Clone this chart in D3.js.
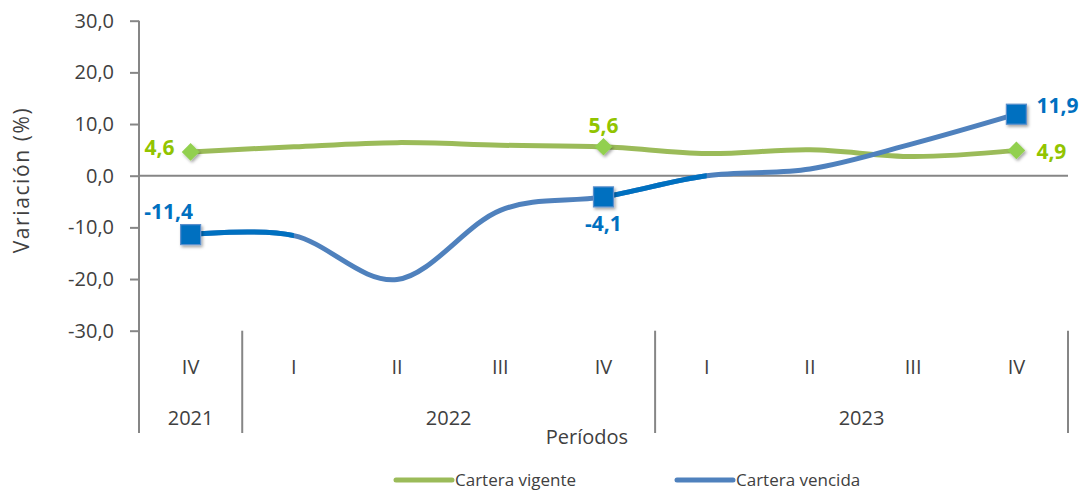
<!DOCTYPE html>
<html>
<head>
<meta charset="utf-8">
<script src="https://cdn.jsdelivr.net/npm/d3@7"></script>
<style>
  body { margin: 0; background: #fff; }
  svg { font-family: "Open Sans", "Noto Sans", sans-serif; }
  .tick-label { fill: #404040; font-size: 20px; }
  .data-label { font-size: 21px; font-weight: bold; }
</style>
</head>
<body>
<script>
// chart values
const quarters = ["IV", "I", "II", "III", "IV", "I", "II", "III", "IV"]
const years = ["2021", "2022", "2023"]
const quartersPerYear = [1, 4, 4]
const vigente = [4.6, 5.6, 6.4, 5.9, 5.6, 4.3, 5.0, 3.7, 4.9]
const vencida = [-11.4, -11.6, -20.1, -6.7, -4.1, 0.0, 1.3, 6.2, 11.9]
const labelled = [0, 4, 8]
const yTicks = [-30, -20, -10, 0, 10, 20, 30]
const seriesNames = ["Cartera vigente", "Cartera vencida"]

const width = 1090, height = 490
const plotLeft = 139, plotRight = 1068, plotTop = 20.7, plotBottom = 330.7, axisBottom = 433

const green = "#9BBB59", greenMark = "#92D050", greenText = "#92C400"
const blue = "#4F81BD", blueDark = "#0070C0"
const grey = "#868686"

const svg = d3.select("body").append("svg")
    .attr("width", width).attr("height", height)

const defs = svg.append("defs")
const shadow = defs.append("filter").attr("id", "shadow")
    .attr("x", "-50%").attr("y", "-50%").attr("width", "200%").attr("height", "200%")
shadow.append("feDropShadow").attr("dx", 1.5).attr("dy", 2).attr("stdDeviation", 1.6)
    .attr("flood-color", "#000").attr("flood-opacity", 0.35)

const x = d3.scaleBand().domain(d3.range(quarters.length)).range([plotLeft, plotRight])
const y = d3.scaleLinear().domain([-30, 30]).range([plotBottom, plotTop])
const cx = i => x(i) + x.bandwidth() / 2
const fmt = v => d3.format(".1f")(v).replace(".", ",").replace("−", "-")

// y axis
const yAxis = d3.axisLeft(y).tickValues(yTicks).tickSize(9).tickPadding(16).tickFormat(fmt)
const gy = svg.append("g").attr("transform", `translate(${plotLeft},0)`).call(yAxis)
gy.select(".domain").remove()
gy.selectAll(".tick line").attr("stroke", grey).attr("stroke-width", 2)
gy.selectAll(".tick text").attr("class", "tick-label")
gy.attr("font-size", null).attr("font-family", null)
svg.append("line").attr("x1", plotLeft).attr("x2", plotLeft).attr("y1", plotTop).attr("y2", axisBottom)
    .attr("stroke", grey).attr("stroke-width", 2)

// zero line
svg.append("line").attr("x1", plotLeft).attr("x2", plotRight).attr("y1", y(0)).attr("y2", y(0))
    .attr("stroke", grey).attr("stroke-width", 2)

// category axis (two levels)
svg.selectAll(".q").data(quarters).enter().append("text")
    .attr("class", "tick-label").attr("text-anchor", "middle")
    .attr("x", (d, i) => cx(i)).attr("y", 374).text(d => d)

let start = 0
const yearSpans = years.map((yr, k) => {
    const s = { year: yr, first: start, last: start + quartersPerYear[k] - 1 }
    start += quartersPerYear[k]
    return s
})
svg.selectAll(".yr").data(yearSpans).enter().append("text")
    .attr("class", "tick-label").attr("text-anchor", "middle")
    .attr("x", d => (x(d.first) + x(d.last) + x.bandwidth()) / 2).attr("y", 425)
    .text(d => d.year)
svg.selectAll(".sep").data(yearSpans).enter().append("line")
    .attr("x1", d => x(d.last) + x.bandwidth()).attr("x2", d => x(d.last) + x.bandwidth())
    .attr("y1", plotBottom).attr("y2", axisBottom)
    .attr("stroke", grey).attr("stroke-width", 2)

// axis titles
svg.append("text").attr("class", "tick-label").attr("text-anchor", "middle")
    .attr("x", 587).attr("y", 444).text("Períodos")
svg.append("text").attr("class", "tick-label").attr("text-anchor", "middle")
    .attr("font-size", 21).attr("letter-spacing", 1.6).style("font-size", "21px")
    .attr("transform", "translate(29,180) rotate(-90)").text("Variación (%)")

// lines
const line = d3.line().x((d, i) => cx(i)).y(d => y(d)).curve(d3.curveCatmullRom.alpha(0))

svg.append("path").datum(vigente).attr("d", line)
    .attr("fill", "none").attr("stroke", green).attr("stroke-width", 5)

svg.append("path").datum(vencida).attr("d", line)
    .attr("fill", "none").attr("stroke", blue).attr("stroke-width", 5)

// darker segments next to highlighted points
const darkSegs = [[0, 1], [4, 5]]
darkSegs.forEach((s, k) => {
    defs.append("clipPath").attr("id", "seg" + k).append("rect")
        .attr("x", cx(s[0])).attr("width", cx(s[1]) - cx(s[0]))
        .attr("y", 0).attr("height", height)
    svg.append("path").datum(vencida).attr("d", line)
        .attr("clip-path", `url(#seg${k})`)
        .attr("fill", "none").attr("stroke", blueDark).attr("stroke-width", 5)
})

// markers
svg.selectAll(".dia").data(labelled).enter().append("path")
    .attr("d", d3.symbol(d3.symbolDiamond2, 200))
    .attr("transform", i => `translate(${cx(i)},${y(vigente[i])})`)
    .attr("fill", greenMark).attr("filter", "url(#shadow)")

svg.selectAll(".sq").data(labelled).enter().append("rect")
    .attr("x", i => cx(i) - 10).attr("y", i => y(vencida[i]) - 10)
    .attr("width", 20).attr("height", 20)
    .attr("fill", blueDark).attr("stroke", "#5A8FCC").attr("stroke-width", 1.2)
    .attr("filter", "url(#shadow)")

// data labels
const last = quarters.length - 1
svg.selectAll(".lg").data(labelled).enter().append("text")
    .attr("class", "data-label").attr("fill", greenText)
    .attr("text-anchor", i => i === 0 ? "end" : i === last ? "start" : "middle")
    .attr("x", i => i === 0 ? cx(i) - 16 : i === last ? cx(i) + 20 : cx(i))
    .attr("y", i => i === 0 ? y(vigente[i]) - 4 : i === last ? y(vigente[i]) + 1 : y(vigente[i]) - 21)
    .attr("dy", "0.36em")
    .text(i => fmt(vigente[i]))

svg.selectAll(".lb").data(labelled).enter().append("text")
    .attr("class", "data-label").attr("fill", blueDark)
    .attr("text-anchor", i => i === last ? "start" : "middle")
    .attr("x", i => i === last ? cx(i) + 20 : cx(i) - 22 * (i === 0 ? 1 : 0))
    .attr("y", i => i === 0 ? y(vencida[i]) - 23 : i === last ? y(vencida[i]) - 9 : y(vencida[i]) + 27)
    .attr("dy", "0.36em")
    .text(i => fmt(vencida[i]))

// legend
const legendX = [396, 677]
const legendColors = [green, blue]
const lg = svg.selectAll(".legend").data(seriesNames).enter().append("g")
    .attr("transform", (d, i) => `translate(${legendX[i]},480)`)
lg.append("line").attr("x1", 0).attr("x2", 56)
    .attr("stroke", (d, i) => legendColors[i]).attr("stroke-width", 5).attr("stroke-linecap", "round")
lg.append("text").attr("x", 59).attr("dy", "0.36em")
    .attr("fill", "#404040").attr("font-size", 17).text(d => d)
</script>
</body>
</html>
